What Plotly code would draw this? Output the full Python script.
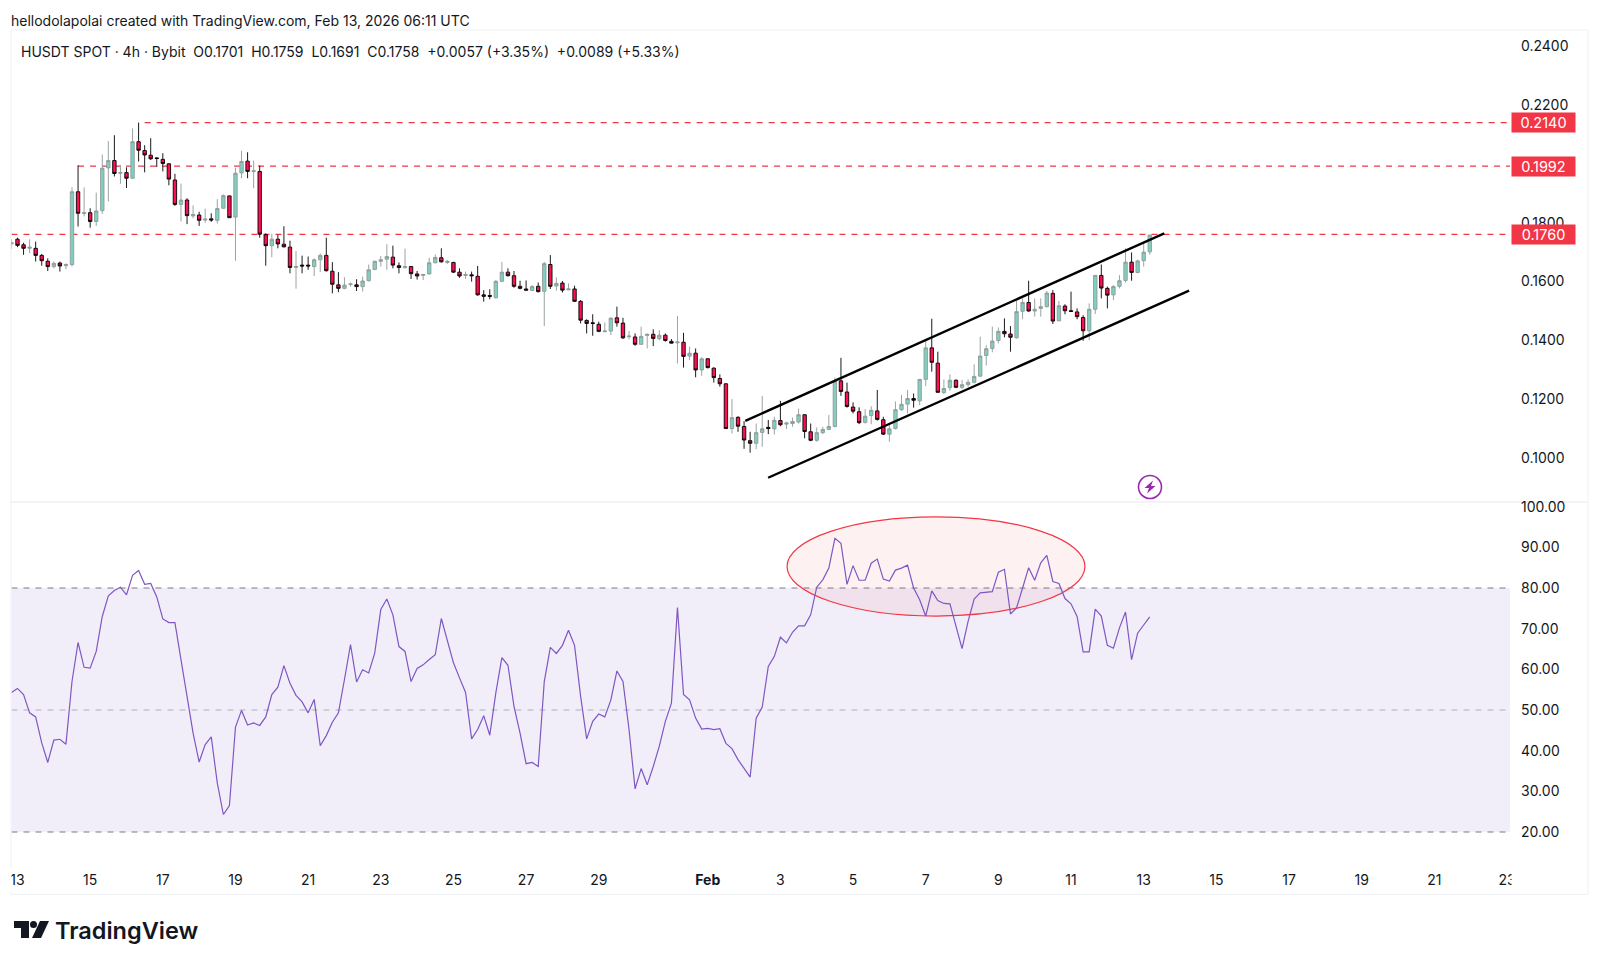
import pandas as pd
import plotly.graph_objects as go

open_ = [.1728,.1744,.1725,.1713,.1713,.1689,.1669,.1651,.1663,.1654,
.1658,.1905,.1831,.1834,.1804,.1841,.1986,.2011,.1968,.1970,
.1951,.2075,.2045,.2029,.2020,.2015,.2000,.1945,.1862,.1877,
.1823,.1826,.1809,.1813,.1808,.1849,.1891,.1819,.1969,.2009,
.1974,.1974,.1759,.1722,.1744,.1727,.1717,.1648,.1656,.1656,
.1651,.1674,.1689,.1635,.1589,.1577,.1590,.1589,.1583,.1603,
.1641,.1669,.1676,.1683,.1654,.1647,.1651,.1626,.1621,.1626,
.1664,.1681,.1665,.1665,.1632,.1621,.1623,.1618,.1555,.1553,
.1545,.1601,.1632,.1620,.1584,.1575,.1570,.1584,.1567,.1658,
.1585,.1595,.1572,.1575,.1533,.1468,.1460,.1455,.1430,.1432,
.1477,.1459,.1413,.1412,.1387,.1417,.1421,.1406,.1418,.1397,
.1392,.1394,.1347,.1357,.1300,.1338,.1306,.1271,.1253,.1101,
.1139,.1108,.1060,.1051,.1088,.1105,.1100,.1128,.1116,.1118,
.1123,.1148,.1090,.1061,.1087,.1098,.1108,.1263,.1225,.1174,
.1158,.1122,.1145,.1161,.1131,.1082,.1101,.1165,.1184,.1203,
.1195,.1268,.1375,.1323,.1223,.1240,.1265,.1241,.1250,.1258,
.1279,.1349,.1373,.1400,.1431,.1422,.1409,.1499,.1529,.1500,
.1509,.1515,.1560,.1467,.1517,.1501,.1497,.1478,.1433,.1506,
.1621,.1577,.1555,.1584,.1604,.1666,.1631,.1671,.1701]
close = [.1732,.1723,.1713,.1717,.1689,.1671,.1651,.1662,.1653,.1658,
.1905,.1832,.1834,.1804,.1840,.1985,.2011,.1967,.1970,.1951,
.2075,.2046,.2030,.2017,.2018,.2001,.1948,.1862,.1877,.1824,
.1828,.1808,.1812,.1809,.1848,.1892,.1817,.1968,.2008,.1974,
.1976,.1761,.1722,.1744,.1728,.1718,.1648,.1651,.1653,.1653,
.1674,.1689,.1637,.1591,.1577,.1588,.1592,.1583,.1602,.1640,
.1669,.1674,.1685,.1656,.1648,.1651,.1627,.1619,.1624,.1664,
.1682,.1667,.1669,.1632,.1619,.1624,.1620,.1555,.1550,.1550,
.1601,.1632,.1620,.1584,.1577,.1571,.1583,.1566,.1661,.1584,
.1594,.1571,.1575,.1533,.1469,.1458,.1458,.1431,.1432,.1476,
.1460,.1409,.1415,.1387,.1414,.1421,.1407,.1418,.1400,.1391,
.1395,.1346,.1357,.1300,.1338,.1308,.1274,.1253,.1101,.1138,
.1109,.1062,.1051,.1087,.1100,.1101,.1129,.1114,.1120,.1125,
.1148,.1091,.1061,.1087,.1098,.1108,.1262,.1227,.1176,.1160,
.1121,.1143,.1163,.1132,.1082,.1100,.1165,.1183,.1203,.1197,
.1268,.1375,.1326,.1224,.1237,.1265,.1241,.1250,.1258,.1278,
.1347,.1372,.1398,.1431,.1423,.1411,.1498,.1529,.1500,.1506,
.1515,.1561,.1466,.1518,.1501,.1499,.1481,.1433,.1506,.1621,
.1578,.1554,.1583,.1603,.1666,.1631,.1670,.1700,.1758]
high = [.1744,.1749,.1732,.1744,.1736,.1694,.1679,.1668,.1668,.1662,
.1920,.1995,.1920,.1849,.1902,.2031,.2077,.2097,.1996,.1988,
.2120,.2140,.2063,.2087,.2022,.2036,.2002,.1966,.1932,.1883,
.1859,.1837,.1848,.1832,.1880,.1896,.1892,.1987,.2044,.2039,
.2011,.1994,.1764,.1762,.1759,.1788,.1739,.1704,.1688,.1685,
.1679,.1696,.1749,.1666,.1632,.1615,.1597,.1608,.1617,.1658,
.1671,.1687,.1727,.1722,.1665,.1712,.1653,.1636,.1626,.1681,
.1692,.1713,.1673,.1667,.1645,.1634,.1634,.1653,.1571,.1574,
.1605,.1667,.1645,.1636,.1603,.1604,.1588,.1597,.1667,.1690,
.1614,.1602,.1594,.1586,.1537,.1472,.1489,.1464,.1461,.1478,
.1515,.1477,.1432,.1424,.1447,.1424,.1438,.1435,.1424,.1405,
.1483,.1426,.1379,.1373,.1343,.1339,.1309,.1285,.1254,.1201,
.1143,.1126,.1090,.1118,.1212,.1130,.1141,.1195,.1124,.1138,
.1169,.1149,.1118,.1105,.1107,.1147,.1274,.1341,.1257,.1190,
.1173,.1167,.1177,.1232,.1141,.1118,.1193,.1215,.1232,.1220,
.1269,.1399,.1474,.1362,.1268,.1285,.1268,.1266,.1268,.1319,
.1413,.1384,.1447,.1444,.1475,.1449,.1537,.1543,.1603,.1543,
.1543,.1568,.1571,.1534,.1523,.1566,.1509,.1486,.1526,.1622,
.1658,.1583,.1588,.1622,.1713,.1699,.1675,.1735,.1759]
low = [.1711,.1717,.1691,.1696,.1668,.1654,.1636,.1645,.1634,.1642,
.1651,.1787,.1821,.1783,.1789,.1830,.1872,.1957,.1932,.1918,
.1949,.2008,.1971,.2013,.1989,.1974,.1927,.1857,.1804,.1795,
.1815,.1789,.1800,.1803,.1797,.1847,.1817,.1671,.1951,.1951,
.1917,.1749,.1654,.1683,.1713,.1716,.1628,.1576,.1628,.1640,
.1619,.1633,.1634,.1560,.1564,.1574,.1583,.1568,.1566,.1600,
.1640,.1651,.1640,.1645,.1628,.1645,.1609,.1607,.1605,.1624,
.1662,.1665,.1660,.1630,.1613,.1609,.1600,.1552,.1532,.1540,
.1543,.1598,.1617,.1579,.1574,.1570,.1568,.1563,.1449,.1575,
.1569,.1563,.1571,.1531,.1458,.1424,.1416,.1428,.1428,.1418,
.1447,.1405,.1404,.1382,.1385,.1373,.1381,.1401,.1396,.1390,
.1322,.1308,.1334,.1275,.1280,.1305,.1257,.1243,.1101,.1084,
.1090,.1032,.1019,.1031,.1039,.1082,.1081,.1109,.1099,.1107,
.1118,.1068,.1058,.1056,.1082,.1096,.1105,.1212,.1172,.1152,
.1116,.1118,.1116,.1128,.1079,.1056,.1098,.1161,.1152,.1172,
.1180,.1245,.1294,.1223,.1218,.1229,.1238,.1235,.1243,.1254,
.1277,.1315,.1360,.1390,.1411,.1362,.1407,.1472,.1498,.1481,
.1481,.1512,.1456,.1465,.1489,.1498,.1472,.1399,.1401,.1490,
.1543,.1509,.1537,.1577,.1597,.1603,.1628,.1651,.1691]
rsi = [54.3,55.3,53.8,49.3,48.3,41.9,37.1,42.6,42.8,41.6,
57.0,66.6,60.5,60.3,64.4,73.0,78.1,79.4,80.2,78.3,
83.1,84.3,80.9,81.1,77.8,72.4,71.5,71.5,62.4,53.4,
44.3,37.2,41.5,43.4,32.0,24.3,26.5,45.8,49.9,46.3,
46.8,46.2,48.3,53.8,55.6,60.9,56.6,53.6,52.0,49.3,
52.6,41.2,43.7,47.0,49.3,57.5,66.1,56.9,59.9,59.1,
64.0,74.7,77.3,73.4,65.6,64.4,57.0,60.2,61.1,62.4,
63.6,72.5,67.3,61.6,57.9,54.3,42.9,45.2,48.6,43.8,
54.2,62.9,61.0,50.9,44.3,36.8,37.1,36.1,57.0,65.4,
63.9,65.9,69.6,65.9,53.4,42.9,47.2,49.0,48.3,52.5,
59.6,57.0,45.2,30.6,35.6,31.6,36.1,41.1,47.2,51.7,
75.2,53.8,52.5,48.0,45.3,45.5,45.2,45.4,41.8,40.5,
37.8,35.6,33.5,48.0,50.7,60.7,63.2,67.9,66.5,69.1,
70.7,70.7,73.4,80.2,82.0,84.9,92.2,91.0,80.9,85.5,
81.9,81.9,86.1,87.1,82.2,81.7,84.4,84.9,85.6,80.0,
77.1,73.1,79.3,76.9,76.2,76.1,70.6,65.1,71.8,77.3,
78.8,78.9,79.1,83.9,84.6,73.6,75.1,80.0,85.0,81.9,
86.2,88.0,81.6,81.1,77.4,76.1,73.0,64.3,64.3,74.8,
73.1,65.9,65.2,70.2,74.1,62.4,68.9,70.9,72.9]

times = pd.date_range("2026-01-12 20:00", periods=len(close), freq="4h")

price_ticks = [0.10, 0.12, 0.14, 0.16, 0.18, 0.20, 0.22, 0.24]
rsi_ticks = [20, 30, 40, 50, 60, 70, 80, 90, 100]
date_ticks = ["2026-01-13", "2026-01-15", "2026-01-17", "2026-01-19", "2026-01-21", "2026-01-23",
              "2026-01-25", "2026-01-27", "2026-01-29", "2026-02-01", "2026-02-03", "2026-02-05",
              "2026-02-07", "2026-02-09", "2026-02-11", "2026-02-13", "2026-02-15", "2026-02-17",
              "2026-02-19", "2026-02-21", "2026-02-23"]
date_labels = ["13", "15", "17", "19", "21", "23", "25", "27", "29", "<b>Feb</b>", "3", "5", "7", "9",
               "11", "13", "15", "17", "19", "21", "23"]

levels = [(0.2140, "0.2140", "2026-01-16 12:00"), (0.1992, "0.1992", "2026-01-14 16:00"),
          (0.1760, "0.1760", "2026-01-12 20:00")]
channel_upper = [("2026-02-02 00:48", 0.1127), ("2026-02-13 13:36", 0.1764)]
channel_lower = [("2026-02-02 15:54", 0.0934), ("2026-02-14 06:00", 0.1569)]
ellipse_x = ["2026-02-03 04:24", "2026-02-11 09:12"]
ellipse_y = [73.1, 97.5]

W, H = 1600, 964
RED = "#f23645"
PURPLE = "#7e57c2"
FONT = "Inter"
INK = "#131722"

def fx(px): return px / W
def fy(px): return 1 - px / H

fig = go.Figure()
fig.add_trace(go.Candlestick(
    x=times, open=open_, high=high, low=low, close=close, yaxis="y",
    increasing=dict(fillcolor="#7fd0c0", line=dict(color="#8f9a98", width=0.9)),
    decreasing=dict(fillcolor="#ff0f52", line=dict(color="#000000", width=0.9)),
    showlegend=False, hoverinfo="skip"))
fig.add_trace(go.Scatter(x=times, y=rsi, yaxis="y2", mode="lines",
                         line=dict(color=PURPLE, width=1.2), showlegend=False, hoverinfo="skip"))

shapes = []
shapes.append(dict(type="rect", xref="x domain", yref="y2", x0=0, x1=1, y0=20, y1=80,
                   fillcolor="rgba(126,87,194,0.1)", line_width=0, layer="below"))
for v, c in [(80, "#787b86"), (50, "rgba(120,123,134,0.55)"), (20, "#787b86")]:
    shapes.append(dict(type="line", xref="x domain", yref="y2", x0=0, x1=1, y0=v, y1=v,
                       line=dict(color=c, width=1, dash="6px,6px"), layer="below"))
shapes.append(dict(type="circle", xref="x", yref="y2", x0=ellipse_x[0], x1=ellipse_x[1],
                   y0=ellipse_y[0], y1=ellipse_y[1], fillcolor="rgba(242,54,69,0.07)",
                   line=dict(color=RED, width=1.2), layer="below"))
for v, _, start in levels:
    shapes.append(dict(type="line", xref="x", yref="y", x0=start, x1="2026-02-23 02:00", y0=v, y1=v,
                       line=dict(color=RED, width=1.2, dash="6px,6px"), layer="below"))
for seg in (channel_upper, channel_lower):
    shapes.append(dict(type="line", xref="x", yref="y", x0=seg[0][0], y0=seg[0][1], x1=seg[1][0], y1=seg[1][1],
                       line=dict(color="#000000", width=2.4), layer="above"))
BORDER = "#f0f1f4"
for x0, y0, x1, y1 in [(11, 30, 1588, 30), (11, 894.5, 1588, 894.5), (11, 30, 11, 894.5), (1588, 30, 1588, 894.5)]:
    shapes.append(dict(type="line", xref="paper", yref="paper", x0=fx(x0), y0=fy(y0), x1=fx(x1), y1=fy(y1),
                       line=dict(color=BORDER, width=1), layer="below"))
shapes.append(dict(type="line", xref="paper", yref="paper", x0=fx(11), y0=fy(502), x1=fx(1588), y1=fy(502),
                   line=dict(color="#e6e6f0", width=1), layer="below"))
shapes.append(dict(type="circle", xref="paper", yref="paper", x0=fx(1138.5), x1=fx(1161.5), y0=fy(498.5), y1=fy(475.5),
                   line=dict(color="#9c27b0", width=1.6), fillcolor="white", layer="above"))
shapes.append(dict(type="path", xref="paper", yref="paper", fillcolor="#9c27b0", line_width=0, layer="above",
                   path=f"M {fx(1153)} {fy(480.5)} L {fx(1144.5)} {fy(488)} L {fx(1149)} {fy(488)} L {fx(1147)} {fy(493.5)} "
                        f"L {fx(1155.5)} {fy(486)} L {fx(1151)} {fy(486)} Z"))
shapes.append(dict(type="path", xref="paper", yref="paper", fillcolor=INK, line_width=0, layer="above",
                   path=f"M {fx(14)} {fy(921)} L {fx(29)} {fy(921)} L {fx(29)} {fy(938)} L {fx(21)} {fy(938)} "
                        f"L {fx(21)} {fy(928)} L {fx(14)} {fy(928)} Z"))
shapes.append(dict(type="circle", xref="paper", yref="paper", x0=fx(30), x1=fx(37), y0=fy(928), y1=fy(921),
                   fillcolor=INK, line_width=0, layer="above"))
shapes.append(dict(type="path", xref="paper", yref="paper", fillcolor=INK, line_width=0, layer="above",
                   path=f"M {fx(40)} {fy(921)} L {fx(49)} {fy(921)} L {fx(41)} {fy(938)} L {fx(32)} {fy(938)} Z"))

annotations = [
    dict(xref="paper", yref="paper", x=fx(9), y=fy(20.4), xanchor="left", yanchor="middle", showarrow=False,
         text="hellodolapolai created with TradingView.com, Feb 13, 2026 06:11 UTC",
         font=dict(family=FONT, size=14, color=INK)),
    dict(xref="paper", yref="paper", x=fx(18.5), y=fy(51.5), xanchor="left", yanchor="middle", showarrow=False,
         text="HUSDT SPOT · 4h · Bybit  O0.1701  H0.1759  L0.1691  C0.1758  +0.0057 (+3.35%)  +0.0089 (+5.33%)",
         font=dict(family=FONT, size=14, color=INK)),
    dict(xref="paper", yref="paper", x=fx(53), y=fy(930), xanchor="left", yanchor="middle", showarrow=False,
         text="TradingView", font=dict(family=FONT, size=23.5, color=INK, weight=600)),
    # white masks that clip the first and last date labels at the pane edge
    dict(xref="paper", yref="paper", x=fx(4), y=fy(880), xanchor="left", yanchor="middle", showarrow=False,
         text=" ", width=6, height=22, bgcolor="white", borderpad=0),
    dict(xref="paper", yref="paper", x=fx(1510.5), y=fy(880), xanchor="left", yanchor="middle", showarrow=False,
         text=" ", width=10, height=22, bgcolor="white", borderpad=0),
]
for v, txt, _ in levels:
    annotations.append(dict(xref="paper", yref="y", x=fx(1511), y=v, xanchor="left", yanchor="middle",
                            showarrow=False, text=txt, width=63, height=19, bgcolor=RED, borderpad=0,
                            align="center", font=dict(family=FONT, size=14.5, color="#ffffff")))

fig.update_layout(
    width=W, height=H, margin=dict(l=0, r=0, t=0, b=0, autoexpand=False), paper_bgcolor="white", plot_bgcolor="white",
    showlegend=False, shapes=shapes, annotations=annotations, boxgap=0.2,
    font=dict(family=FONT, size=14, color=INK),
    xaxis=dict(domain=[fx(11.5), fx(1510)], anchor="y2", type="date",
               range=["2026-01-12 20:02", "2026-02-23 02:00"], rangeslider=dict(visible=False),
               tickmode="array", tickvals=date_ticks, ticktext=date_labels, showgrid=False, zeroline=False,
               showline=False, ticks="", ticklabelstandoff=4, automargin=False,
               tickfont=dict(family=FONT, size=14, color=INK)),
    yaxis=dict(domain=[fy(502), fy(30)], anchor="x", side="right", range=[0.08516, 0.24543], showgrid=False,
               zeroline=False, showline=False, ticks="", tickmode="array", tickvals=price_ticks,
               ticktext=[f"{v:.4f}" for v in price_ticks], ticklabelstandoff=10, automargin=False,
               tickfont=dict(family=FONT, size=14, color=INK)),
    yaxis2=dict(domain=[fy(866), fy(503)], anchor="x", side="right", range=[11.64, 100.9], showgrid=False,
                zeroline=False, showline=False, ticks="", tickmode="array", tickvals=rsi_ticks,
                ticktext=[f"{v:.2f}" for v in rsi_ticks], ticklabelstandoff=10, automargin=False,
                tickfont=dict(family=FONT, size=14, color=INK)),
)

fig.write_html("out.html", config={"displayModeBar": False},
               post_script="document.body.style.margin='0';document.body.style.overflow='hidden';")
